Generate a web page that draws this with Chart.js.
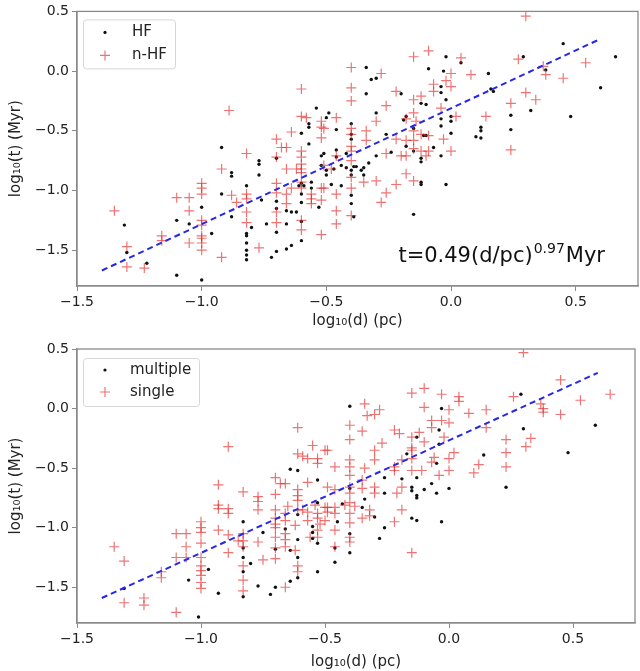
<!DOCTYPE html>
<html>
<head>
<meta charset="utf-8">
<script src="https://cdn.jsdelivr.net/npm/chart.js@4.4.1/dist/chart.umd.min.js"></script>
<style>
body{margin:0;background:#fff;width:640px;height:671px;overflow:hidden}
.box{position:absolute;left:0;width:640px}
#top{top:0;height:330px}
#bot{top:335px;height:336px}
</style>
</head>
<body>
<div class="box" id="top"><canvas id="c1"></canvas></div>
<div class="box" id="bot"><canvas id="c2"></canvas></div>
<script>
// axis ticks
var xTicks = [-1.5, -1.0, -0.5, 0.0, 0.5];
var yTicks = [-1.5, -1.0, -0.5, 0.0, 0.5];

// fit lines (end points)
var fitX = [-1.4, 0.6];
var fitTopY = [-1.67, 0.27];
var fitBotY = [-1.59, 0.30];

// top panel: HF (dots) and n-HF (crosses), [log d, log t]
var hf = [[-1.31,-1.29],[-1.30,-1.52],[-1.22,-1.61],[-1.10,-1.25],[-1.10,-1.71],[-1.05,-1.28],[-1.00,-1.14],[-1.00,-1.75],
[-0.96,-1.36],[-0.92,-1.03],[-0.92,-0.64],[-0.88,-0.85],[-0.88,-0.88],[-0.88,-1.22],[-0.82,-0.96],[-0.82,-1.36],[-0.82,-1.38],
[-0.82,-1.44],[-0.82,-1.50],[-0.82,-1.54],[-0.82,-1.58],[-0.80,-1.31],[-0.77,-0.75],[-0.77,-0.78],[-0.77,-0.87],[-0.76,-1.08],
[-0.74,-1.28],[-0.72,-1.56],[-0.70,-0.73],[-0.70,-1.09],[-0.70,-1.15],[-0.70,-1.35],[-0.70,-1.51],[-0.66,-1.17],[-0.66,-1.28],
[-0.66,-1.49],[-0.64,-1.18],[-0.62,-1.18],[-0.64,-1.46],[-0.61,-0.96],[-0.59,-0.96],[-0.60,-0.52],[-0.60,-0.94],[-0.60,-1.03],
[-0.60,-1.10],[-0.60,-1.26],[-0.60,-1.42],[-0.57,-0.44],[-0.57,-0.47],[-0.57,-0.61],[-0.56,-0.93],[-0.56,-0.98],[-0.54,-0.31],
[-0.53,-1.14],[-0.52,-0.71],[-0.52,-0.79],[-0.51,-0.69],[-0.50,-0.83],[-0.50,-0.87],[-0.49,-0.35],[-0.50,-0.39],[-0.48,-0.95],
[-0.47,-0.82],[-0.46,-0.49],[-0.46,-0.66],[-0.46,-0.72],[-0.44,-0.96],[-0.44,-0.79],[-0.42,-0.69],[-0.42,-0.81],[-0.40,-0.44],
[-0.40,-0.53],[-0.40,-0.57],[-0.40,-0.83],[-0.40,-0.87],[-0.40,-1.04],[-0.40,-1.11],[-0.39,-1.22],[-0.39,-0.80],[-0.38,-0.80],
[-0.36,-0.83],[-0.35,-0.81],[-0.35,-0.87],[-0.34,0.03],[-0.34,-0.19],[-0.33,-0.77],[-0.32,-0.07],[-0.30,-0.06],[-0.30,-0.35],
[-0.30,-0.71],[-0.26,-0.53],[-0.24,-0.68],[-0.20,-0.19],[-0.19,-0.41],[-0.18,-0.38],[-0.18,-0.63],[-0.15,-1.20],[-0.15,-0.48],
[-0.15,-0.67],[-0.12,-0.27],[-0.12,-0.73],[-0.12,-0.76],[-0.12,-0.93],[-0.12,-0.95],[-0.11,-0.54],[-0.10,-0.54],[-0.10,-0.28],
[-0.09,0.02],[-0.07,-0.64],[-0.04,-0.18],[-0.04,-0.46],[-0.04,-0.71],[-0.04,-0.13],[-0.04,-0.40],[-0.03,0.00],[-0.02,0.12],
[-0.02,-0.24],[-0.02,-0.95],[0.00,-0.38],[0.00,-0.42],[0.00,-0.52],[0.04,0.07],[0.10,-0.55],[0.12,-0.47],[0.12,-0.50],
[0.12,-0.56],[0.15,-0.02],[0.16,-0.15],[0.17,-0.17],[0.24,-0.37],[0.24,-0.49],[0.29,0.12],[0.32,-0.33],[0.38,0.01],
[0.45,0.23],[0.48,-0.38],[0.60,-0.14],[0.66,0.12]];

var nhf = [[-1.35,-1.17],[-1.30,-1.47],[-1.30,-1.64],[-1.23,-1.65],[-1.16,-1.38],[-1.16,-1.42],[-1.10,-1.06],[-1.05,-1.06],
[-1.05,-1.17],[-1.05,-1.44],[-1.00,-0.94],[-1.00,-0.98],[-1.00,-1.03],[-1.00,-1.25],[-1.00,-1.29],[-1.00,-1.38],[-1.00,-1.40],
[-1.00,-1.44],[-1.00,-1.50],[-0.92,-0.82],[-0.92,-1.56],[-0.89,-0.33],[-0.88,-1.04],[-0.86,-1.10],[-0.82,-0.69],[-0.82,-1.03],
[-0.82,-1.07],[-0.82,-1.18],[-0.82,-1.27],[-0.77,-1.48],[-0.70,-0.57],[-0.70,-0.72],[-0.70,-0.94],[-0.70,-1.02],[-0.70,-1.18],
[-0.70,-1.27],[-0.68,-0.64],[-0.66,-0.64],[-0.66,-0.82],[-0.66,-1.03],[-0.66,-1.11],[-0.64,-0.51],[-0.62,-0.82],[-0.64,-0.98],
[-0.60,-0.15],[-0.60,-0.38],[-0.58,-0.39],[-0.60,-0.67],[-0.60,-0.72],[-0.60,-0.78],[-0.60,-0.82],[-0.60,-0.85],[-0.60,-0.93],
[-0.60,-0.98],[-0.60,-1.25],[-0.60,-1.33],[-0.56,-1.03],[-0.56,-1.07],[-0.56,-1.11],[-0.52,-0.42],[-0.52,-0.47],[-0.52,-0.56],
[-0.52,-0.98],[-0.52,-1.08],[-0.52,-1.37],[-0.51,-0.48],[-0.51,-0.79],[-0.51,-0.98],[-0.48,-0.82],[-0.46,-0.39],[-0.46,-0.71],
[-0.46,-1.03],[-0.46,-1.17],[-0.46,-1.28],[-0.40,0.03],[-0.40,-0.14],[-0.40,-0.25],[-0.40,-0.48],[-0.40,-0.53],[-0.40,-0.63],
[-0.40,-0.67],[-0.40,-0.75],[-0.40,-0.89],[-0.40,-0.98],[-0.40,-1.21],[-0.34,-0.50],[-0.34,-0.58],[-0.35,-0.93],[-0.30,-0.42],
[-0.30,-0.92],[-0.28,-0.02],[-0.28,-1.10],[-0.26,-0.29],[-0.26,-0.69],[-0.26,-1.02],[-0.22,-0.57],[-0.22,-0.95],[-0.22,-0.17],
[-0.20,-0.71],[-0.18,-0.40],[-0.18,-0.58],[-0.18,-0.71],[-0.18,-0.86],[-0.15,-0.24],[-0.15,0.12],[-0.15,-0.35],[-0.15,-0.50],
[-0.15,-0.58],[-0.15,-0.65],[-0.15,-0.92],[-0.14,-0.42],[-0.12,-0.21],[-0.12,-0.53],[-0.12,-0.67],[-0.10,-0.71],[-0.09,0.17],
[-0.09,-0.54],[-0.09,-0.67],[-0.07,-0.11],[-0.07,-0.17],[-0.04,-0.31],[-0.03,-0.57],[-0.02,-0.08],[0.00,-0.13],[0.00,-0.02],
[0.00,-0.67],[0.02,-0.38],[0.04,0.11],[0.08,-0.03],[0.14,-0.38],[0.24,-0.27],[0.24,-0.66],[0.27,0.10],[0.30,0.46],
[0.30,-0.18],[0.34,-0.24],[0.37,0.04],[0.38,-0.03],[0.45,-0.06],[0.54,0.07]];

// bottom panel: multiple (dots) and single (crosses)
var mult = [[-1.31,-1.51],[-1.05,-1.44],[-0.97,-1.35],[-1.01,-1.75],[-0.93,-1.55],[-0.83,-0.95],[-0.83,-1.17],[-0.83,-1.25],
[-0.83,-1.37],[-0.83,-1.58],[-0.80,-1.30],[-0.77,-1.49],[-0.75,-1.04],[-0.72,-1.56],[-0.70,-1.50],[-0.70,-1.18],[-0.66,-1.01],
[-0.64,-1.19],[-0.61,-0.89],[-0.61,-1.10],[-0.61,-1.25],[-0.61,-1.42],[-0.64,-1.45],[-0.55,-0.99],[-0.55,-1.04],[-0.55,-1.09],
[-0.53,-1.13],[-0.53,-1.37],[-0.64,-0.51],[-0.61,-0.52],[-0.53,-0.60],[-0.53,-0.79],[-0.40,0.02],[-0.03,0.00],[-0.13,-0.24],
[-0.04,-0.18],[-0.17,-0.38],[-0.04,-0.30],[-0.05,-0.46],[-0.26,-0.58],[-0.19,-0.59],[-0.13,-0.58],[-0.07,-0.63],[-0.15,-0.66],
[-0.15,-0.69],[-0.10,-0.68],[0.00,-0.67],[-0.13,-0.73],[-0.13,-0.75],[-0.05,-0.71],[-0.26,-0.71],[-0.34,-0.76],[-0.35,-0.83],
[-0.40,-0.67],[-0.43,-0.80],[-0.30,-0.91],[-0.26,-1.00],[-0.28,-1.09],[-0.15,-0.92],[-0.13,-0.94],[-0.03,-0.95],[-0.40,-1.05],
[-0.40,-1.21],[-0.46,-1.17],[-0.46,-1.29],[-0.45,-0.95],[0.29,0.12],[0.30,-0.17],[0.59,-0.14],[0.48,-0.37],[0.23,-0.66],
[0.14,-0.39]];

var sing = [[-0.89,-0.32],[-0.61,-0.16],[-0.93,-0.64],[-0.83,-0.70],[-0.77,-0.74],[-0.70,-0.58],[-0.68,-0.63],[-0.66,-0.63],
[-0.70,-0.72],[-0.61,-0.38],[-0.59,-0.40],[-0.57,-0.42],[-0.57,-0.62],[-0.61,-0.68],[-0.55,-0.31],[-0.53,-0.46],[-0.53,-0.42],
[-0.49,-0.35],[-0.77,-0.78],[-0.61,-0.73],[-0.61,-0.77],[-0.65,-0.82],[-0.61,-0.85],[-0.59,-0.85],[-0.57,-0.87],[-0.54,-0.81],
[-0.53,-0.88],[-0.53,-0.92],[-0.49,-0.83],[-0.49,-0.87],[-0.53,-1.02],[-0.53,-1.08],[-0.93,-0.81],[-0.93,-0.84],[-0.89,-0.84],
[-0.89,-0.88],[-1.00,-0.95],[-1.00,-1.00],[-1.00,-1.04],[-1.06,-1.05],[-1.00,-1.13],[-1.06,-1.16],[-1.00,-1.25],[-1.00,-1.32],
[-1.00,-1.36],[-1.00,-1.40],[-1.00,-1.46],[-1.00,-1.51],[-1.06,-1.25],[-0.93,-1.02],[-0.89,-1.06],[-0.89,-1.21],[-0.83,-1.05],
[-0.83,-1.11],[-0.83,-1.32],[-0.83,-1.44],[-0.83,-1.53],[-0.77,-1.12],[-0.75,-1.27],[-0.70,-0.92],[-0.70,-1.00],[-0.70,-1.08],
[-0.70,-1.17],[-0.70,-1.26],[-0.66,-0.94],[-0.66,-1.10],[-0.66,-1.16],[-0.62,-1.19],[-0.61,-1.32],[-0.61,-1.37],[-0.66,-1.50],
[-0.62,-0.98],[-0.57,-0.94],[-0.56,-1.08],[-1.35,-1.16],[-1.31,-1.28],[-1.31,-1.63],[-1.23,-1.59],[-1.23,-1.65],[-1.16,-1.37],
[-1.16,-1.42],[-1.10,-1.05],[-1.10,-1.25],[-1.10,-1.71],[-0.85,-1.11],[-0.77,-0.85],[-0.83,-1.16],[-0.70,-0.85],[-0.70,-0.97],
[-0.66,-0.88],[-0.66,-1.05],[-0.10,0.17],[-0.15,0.13],[-0.03,0.12],[0.04,0.10],[-0.34,0.04],[-0.28,-0.01],[-0.33,-0.06],
[-0.30,-0.05],[-0.10,0.01],[0.00,-0.01],[0.08,-0.04],[-0.40,-0.14],[-0.35,-0.19],[-0.40,-0.26],[-0.22,-0.18],[-0.20,-0.21],
[-0.07,-0.10],[-0.07,-0.16],[-0.03,-0.10],[0.00,-0.12],[-0.15,-0.24],[-0.10,-0.28],[-0.27,-0.29],[-0.50,-0.35],[-0.46,-0.49],
[-0.40,-0.43],[-0.40,-0.49],[-0.40,-0.56],[-0.30,-0.35],[-0.30,-0.43],[-0.34,-0.50],[-0.19,-0.43],[-0.15,-0.35],[-0.22,-0.52],
[-0.04,-0.56],[0.00,-0.42],[0.02,-0.37],[0.00,-0.52],[0.10,-0.54],[-0.11,-0.52],[-0.06,-0.41],[-0.49,-0.66],[-0.46,-0.68],
[-0.40,-0.66],[-0.40,-0.71],[-0.35,-0.60],[-0.35,-0.67],[-0.30,-0.66],[-0.30,-0.71],[-0.21,-0.71],[-0.19,-0.66],[-0.22,-0.95],
[-0.19,-0.85],[-0.35,-0.92],[-0.40,-0.79],[-0.40,-0.88],[-0.40,-0.96],[-0.40,-1.08],[-0.40,-1.12],[-0.46,-0.83],[-0.46,-0.88],
[-0.46,-1.02],[-0.46,-1.16],[-0.15,-1.21],[-0.50,-0.83],[-0.50,-0.94],[0.30,0.47],[0.45,0.24],[0.65,0.12],[0.53,0.07],
[0.37,0.04],[0.38,0.00],[0.38,-0.03],[0.45,-0.05],[0.26,0.10],[0.15,-0.01],[0.15,-0.16],[0.23,-0.26],[0.23,-0.37],
[0.23,-0.49],[0.33,-0.25],[0.31,-0.32],[0.12,-0.47],[0.04,0.06],[-0.12,-0.20],[-0.02,-0.24],[-0.15,-0.33],[-0.15,-0.42],
[-0.15,-0.52],[-0.07,-0.45],[-0.22,-0.49],[-0.52,-0.97],[-0.42,-0.81],[-0.38,-0.82],[-0.32,-0.85],[-0.32,-0.90]];

var FONT = "'DejaVu Sans', sans-serif";
var DOT = '#111';
var CROSS = 'rgba(228,30,30,0.62)';
var FIT = '#2727e6';

function pts(arr) { return arr.map(function (p) { return {x: p[0], y: p[1]}; }); }
function fmt(v) { return v.toFixed(1).replace('-', '\u2212'); }

// frame round the plot (matplotlib spines)
var frame = {
  id: 'frame',
  afterDatasetsDraw: function (chart) {
    var a = chart.chartArea, ctx = chart.ctx;
    ctx.save();
    ctx.strokeStyle = '#8a8a8a';
    ctx.lineWidth = 1.3;
    ctx.strokeRect(a.left, a.top, a.right - a.left, a.bottom - a.top);
    ctx.restore();
  }
};

// legend inside the axes, upper left
var boxLegend = {
  id: 'boxLegend',
  afterDraw: function (chart, args, o) {
    var a = chart.chartArea, ctx = chart.ctx;
    var x = a.left + 6, y = a.top + o.dy;
    ctx.save();
    ctx.fillStyle = 'rgba(255,255,255,0.85)';
    ctx.strokeStyle = '#d6d6d6';
    ctx.lineWidth = 1;
    ctx.beginPath();
    ctx.roundRect(x + 0.5, y + 0.5, o.w, o.h, 3);
    ctx.fill(); ctx.stroke();
    ctx.font = '15px ' + FONT;
    ctx.textBaseline = 'middle';
    ctx.fillStyle = '#222';
    var rows = [o.rowA, o.rowB];
    for (var i = 0; i < 2; i++) {
      var ds = chart.data.datasets[i];
      var cy = y + rows[i], mx = x + 22;
      if (ds.pointStyle === 'cross') {
        ctx.strokeStyle = CROSS; ctx.lineWidth = 1.2;
        ctx.beginPath();
        ctx.moveTo(mx - 5, cy); ctx.lineTo(mx + 5, cy);
        ctx.moveTo(mx, cy - 5); ctx.lineTo(mx, cy + 5);
        ctx.stroke();
      } else {
        ctx.fillStyle = DOT;
        ctx.beginPath(); ctx.arc(mx, cy, 1.6, 0, Math.PI * 2); ctx.fill();
      }
      ctx.fillStyle = '#222';
      ctx.fillText(ds.label, x + o.tx, cy);
    }
    ctx.restore();
  }
};

// fit formula text
var formula = {
  id: 'formula',
  afterDraw: function (chart, args, o) {
    if (!o.show) return;
    var a = chart.chartArea, ctx = chart.ctx;
    ctx.save();
    ctx.fillStyle = '#111';
    ctx.textBaseline = 'alphabetic';
    var big = '21px ' + FONT, small = '14px ' + FONT;
    var p1 = 't=0.49(d/pc)', p2 = '0.97', p3 = 'Myr';
    ctx.font = big; var w1 = ctx.measureText(p1).width, w3 = ctx.measureText(p3).width;
    ctx.font = small; var w2 = ctx.measureText(p2).width;
    var end = a.right - 33, base = a.bottom - 24;
    var x = end - (w1 + w2 + 2 + w3);
    ctx.font = big; ctx.fillText(p1, x, base);
    ctx.font = small; ctx.fillText(p2, x + w1 + 1, base - 9);
    ctx.font = big; ctx.fillText(p3, x + w1 + w2 + 2, base);
    ctx.restore();
  }
};

function makeChart(id, dots, dotLabel, crosses, crossLabel, fitY, opt) {
  var tickFont = {family: FONT, size: 14};
  var titleFont = {family: FONT, size: 15};
  return new Chart(document.getElementById(id), {
    type: 'scatter',
    data: {
      datasets: [
        {label: dotLabel, data: pts(dots), pointStyle: 'circle', pointRadius: 1.7,
         backgroundColor: DOT, borderWidth: 0, order: 2},
        {label: crossLabel, data: pts(crosses), pointStyle: 'cross', pointRadius: 5,
         borderColor: CROSS, borderWidth: 1.2, order: 1},
        {type: 'line', label: 'fit', data: fitX.map(function (v, i) { return {x: v, y: fitY[i]}; }),
         borderColor: FIT, borderWidth: 2, borderDash: [6, 4], pointRadius: 0, fill: false, order: 0}
      ]
    },
    options: {
      responsive: true,
      maintainAspectRatio: false,
      animation: false,
      layout: {autoPadding: false, padding: {top: opt.padTop, right: opt.padRight, left: 0, bottom: 0}},
      plugins: {
        legend: {display: false},
        tooltip: {enabled: false},
        boxLegend: opt.legend,
        formula: {show: opt.formula}
      },
      scales: {
        x: {
          type: 'linear', min: -1.5, max: 0.75,
          afterBuildTicks: function (s) { s.ticks = xTicks.map(function (v) { return {value: v}; }); },
          afterFit: function (s) { s.height = opt.xH; },
          ticks: {font: tickFont, color: '#222', padding: 3, callback: fmt, maxRotation: 0},
          grid: {drawOnChartArea: false, drawTicks: true, tickLength: 5, color: '#8a8a8a'},
          border: {display: true, color: '#8a8a8a', width: 1.3},
          title: {display: true, text: 'log\u2081\u2080(d) (pc)', font: titleFont, color: '#222', padding: {top: 1, bottom: 0}}
        },
        y: {
          type: 'linear', min: -1.8, max: 0.5,
          afterBuildTicks: function (s) { s.ticks = yTicks.map(function (v) { return {value: v}; }); },
          afterFit: function (s) { s.width = 77; },
          ticks: {font: tickFont, color: '#222', padding: 3, callback: fmt},
          grid: {drawOnChartArea: false, drawTicks: true, tickLength: 5, color: '#8a8a8a'},
          border: {display: true, color: '#8a8a8a', width: 1.3},
          title: {display: true, text: 'log\u2081\u2080(t) (Myr)', font: titleFont, color: '#222', padding: {top: 7, bottom: 2}}
        }
      }
    },
    plugins: [frame, boxLegend, formula]
  });
}

makeChart('c1', hf, 'HF', nhf, 'n-HF', fitTopY,
  {padTop: 10, padRight: 2, xH: 44, formula: true,
   legend: {dy: 8, w: 92, h: 49, rowA: 13, rowB: 36, tx: 49}});
makeChart('c2', mult, 'multiple', sing, 'single', fitBotY,
  {padTop: 14, padRight: 5, xH: 48, formula: false,
   legend: {dy: 9, w: 116, h: 48, rowA: 12, rowB: 34, tx: 47}});
</script>
</body>
</html>
